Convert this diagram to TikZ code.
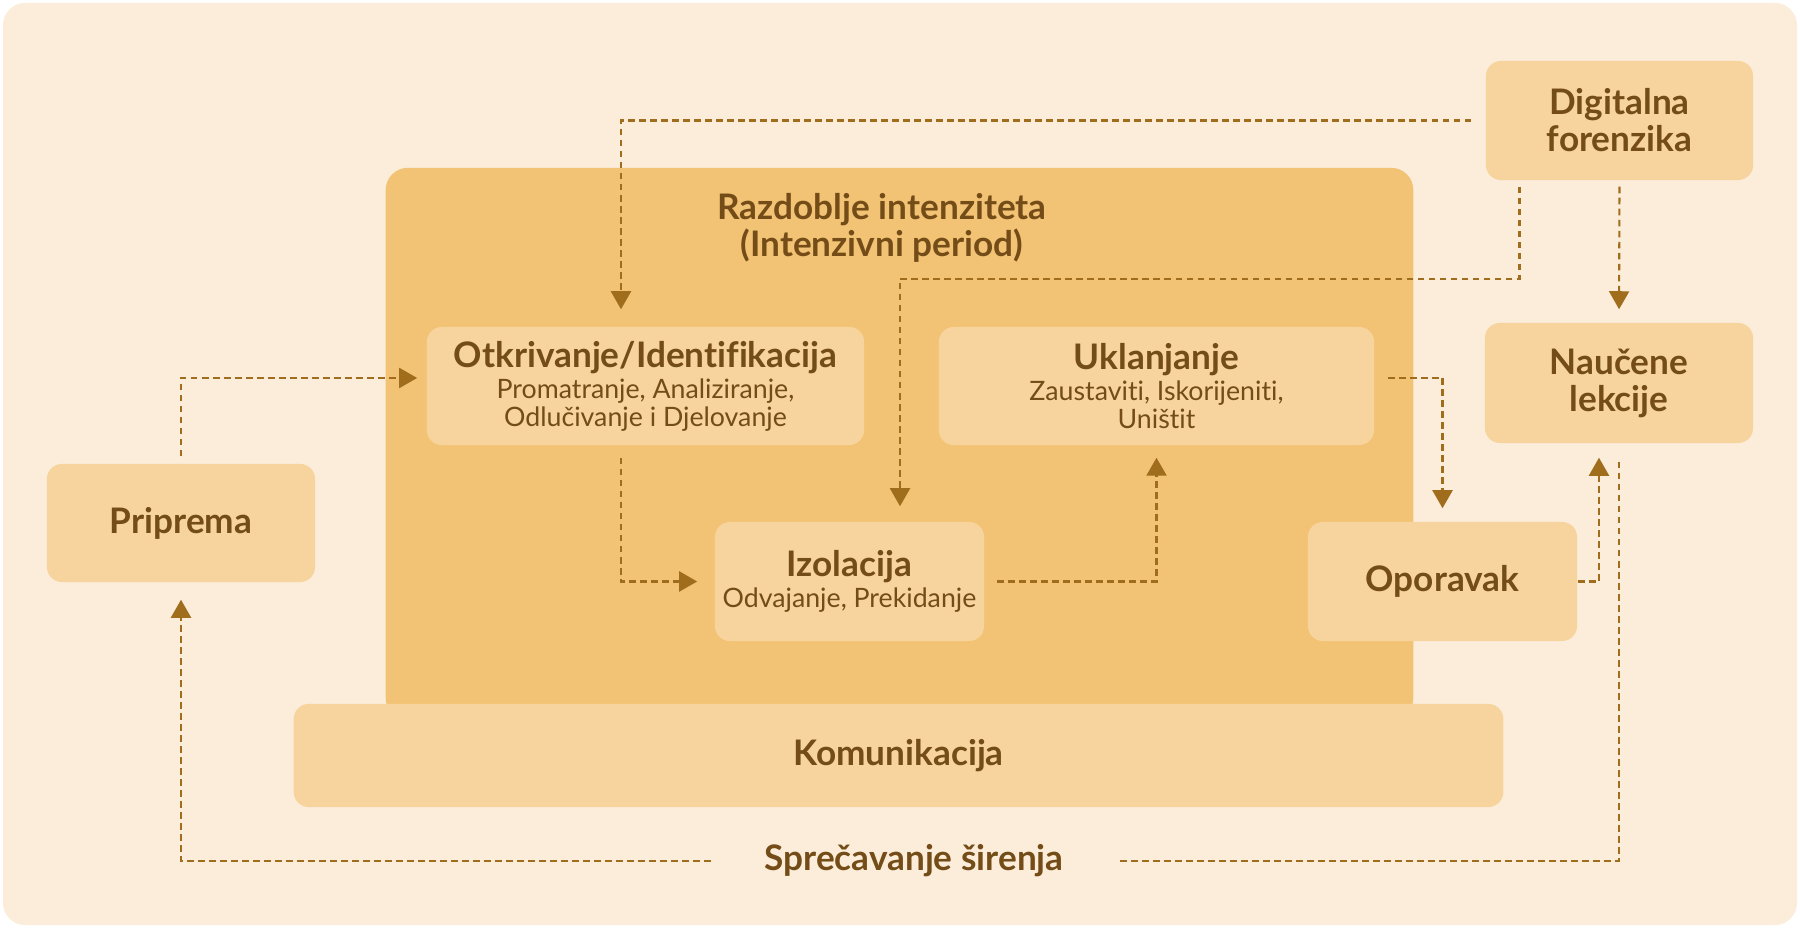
\documentclass[tikz,border=0pt]{standalone}
\usepackage{fontspec}
\setmainfont{Lato}[Ligatures=NoCommon]
\usepackage{xcolor}
\usetikzlibrary{arrows.meta,positioning}
\definecolor{pagebg}{HTML}{FBEDDA}
\definecolor{phasebg}{HTML}{F2C374}
\definecolor{boxbg}{HTML}{F7D49D}
\definecolor{txtbrown}{HTML}{734C17}
\definecolor{linebrown}{HTML}{A06D1C}
\newcommand{\subtxt}[1]{{\mdseries\fontsize{7.6}{8}\selectfont #1}}

\begin{document}
\begin{tikzpicture}[x=0.01cm, y=-0.01cm,
      box/.style={fill=boxbg, rounded corners=0.15cm, inner sep=0pt,
                  text=txtbrown, align=center,
                  font=\bfseries\fontsize{10}{10.5}\selectfont},
      lbl/.style={inner sep=0pt, text=txtbrown, align=center,
                  font=\bfseries\fontsize{10}{10.5}\selectfont},
      phase/.style={fill=phasebg, rounded corners=0.22cm,
                  minimum width=10.27cm, minimum height=5.52cm},
      dline/.style={color=linebrown, line width=0.021cm,
                  dash pattern=on 0.067cm off 0.043cm},
      arr/.style={dline, -{Triangle[length=0.18cm, width=0.2cm]}}
  ]
    \useasboundingbox (0,0) rectangle (1800,928);
    \fill[pagebg, rounded corners=0.22cm] (3,3) rectangle (1797,925);

    \node[phase] (phase) at (899.5,444) {};
    \node[lbl] (title) at (882,228) {Razdoblje intenziteta\\(Intenzivni period)};

    \node[box, minimum width=4.37cm, minimum height=1.18cm] (otk) at (645.5,386)
      {Otkrivanje/Identifikacija\\[-1.7pt]\subtxt{Promatranje, Analiziranje,}\\[-2.5pt]\subtxt{Odlučivanje i Djelovanje}};
    \node[box, minimum width=4.35cm, minimum height=1.18cm] (ukl) at (1156.5,386)
      {Uklanjanje\\[-1.7pt]\subtxt{Zaustaviti, Iskorijeniti,}\\[-2.5pt]\subtxt{Uništit}};
    \node[box, minimum width=2.69cm, minimum height=1.19cm] (izo) at (849.5,581.5)
      {Izolacija\\[-1.7pt]\subtxt{Odvajanje, Prekidanje}};
    \node[box, minimum width=2.69cm, minimum height=1.19cm] (opo) at (1442.5,581.5) {Oporavak};
    \node[box, minimum width=2.68cm, minimum height=1.18cm] (pri) at (181,523) {Priprema};
    \node[box, minimum width=2.67cm, minimum height=1.19cm] (dig) at (1619.5,120.5) {Digitalna\\forenzika};
    \node[box, minimum width=2.68cm, minimum height=1.2cm] (nau) at (1619,383) {Naučene\\lekcije};
    \node[box, minimum width=12.09cm, minimum height=1.03cm] (kom) at (898.5,755.5) {Komunikacija};
    \node[lbl, minimum width=4.04cm] (spr) at (914,861) {Sprečavanje širenja};

    \draw[arr, shorten <=0.14cm, shorten >=0.17cm] (dig.west) -| ([xshift=-0.245cm]otk.north);
    \draw[arr, shorten <=0.06cm, shorten >=0.15cm] ([xshift=-1cm]dig.south) -- ++(0,98) -| ([xshift=0.505cm]izo.north);
    \draw[arr, shorten <=0.06cm, shorten >=0.13cm] (dig.south) -- (nau.north);
    \draw[arr, shorten <=0.07cm, shorten >=0.09cm] (pri.north) |- ([yshift=0.08cm]otk.west);
    \draw[arr, shorten <=0.12cm, shorten >=0.17cm] ([xshift=-0.245cm]otk.south) |- (izo.west);
    \draw[arr, shorten <=0.12cm, shorten >=0.12cm] (izo.east) -| (ukl.south);
    \draw[arr, shorten <=0.13cm, shorten >=0.13cm] ([yshift=0.08cm]ukl.east) -| (opo.north);
    \draw[arr, shorten >=0.14cm] (opo.east) -| ([xshift=-0.2cm]nau.south);
    \draw[dline, shorten <=0.18cm] (nau.south) |- (spr.east);
    \draw[arr, shorten >=0.17cm] (spr.west) -| (pri.south);
\end{tikzpicture}
\end{document}
